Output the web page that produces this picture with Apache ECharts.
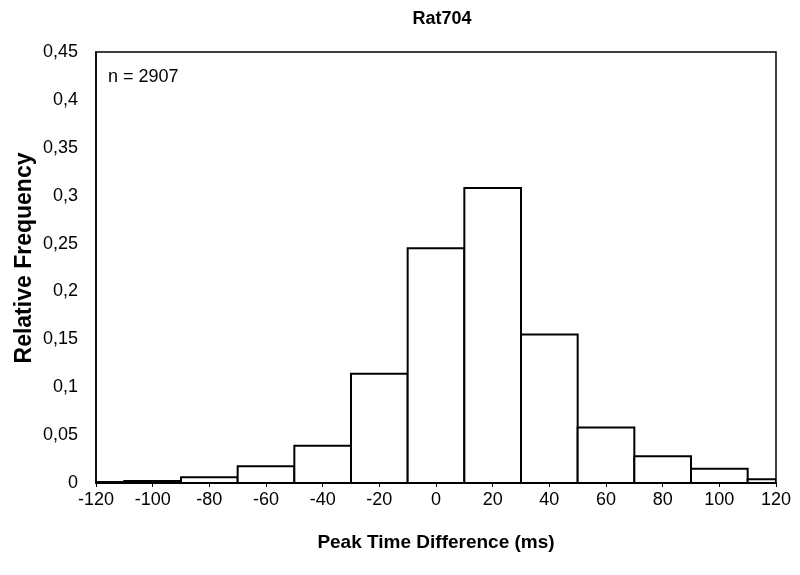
<!DOCTYPE html>
<html><head><meta charset="utf-8">
<script src="https://cdn.jsdelivr.net/npm/echarts@6/dist/echarts.min.js"></script>
<style>html,body{margin:0;padding:0;background:#fff}#c{width:800px;height:575px}</style>
</head><body><div id="c"></div>
<script>
var binCenters = [-120, -100, -80, -60, -40, -20, 0, 20, 40, 60, 80, 100, 120];
var freq = [0.001, 0.002, 0.006, 0.0175, 0.039, 0.114, 0.245, 0.308, 0.155, 0.058, 0.028, 0.015, 0.004];
var binWidth = 20;

var FONT = "'Liberation Sans',Arial,sans-serif";
var chart = echarts.init(document.getElementById('c'));
var data = binCenters.map(function (c, i) { return [c, freq[i]]; });
chart.setOption({
  animation: false,
  title: {
    text: 'Rat704', left: 437, top: 5, textAlign: 'center',
    textStyle: { fontFamily: FONT, fontSize: 18, fontWeight: 'bold', color: '#000' }
  },
  grid: { left: 96, right: 24, top: 52, bottom: 92, show: true, borderColor: '#000', borderWidth: 1.5, backgroundColor: '#fff' },
  xAxis: {
    type: 'value', min: -120, max: 120, interval: 20,
    name: 'Peak Time Difference (ms)', nameLocation: 'middle', nameGap: 50,
    nameTextStyle: { fontFamily: FONT, fontSize: 19, fontWeight: 'bold', color: '#000' },
    axisLine: { show: true, onZero: false, lineStyle: { color: '#000', width: 2 } },
    axisTick: { show: true, length: 4, lineStyle: { color: '#000' } },
    axisLabel: { fontFamily: FONT, fontSize: 18, color: '#000', margin: 8 },
    splitLine: { show: false }
  },
  yAxis: {
    type: 'value', min: 0, max: 0.45, interval: 0.05,
    axisLine: { show: true, onZero: false, lineStyle: { color: '#000', width: 1.5 } },
    axisTick: { show: false },
    axisLabel: {
      fontFamily: FONT, fontSize: 18, color: '#000', margin: 18,
      formatter: function (v) { return String(Math.round(v * 100) / 100).replace('.', ','); }
    },
    splitLine: { show: false }
  },
  graphic: [{
    type: 'text', left: 108, top: 68,
    style: { text: 'n = 2907', font: '18px ' + FONT, fill: '#000' }
  }, {
    type: 'text', x: 25, y: 258, rotation: Math.PI / 2,
    style: { text: 'Relative Frequency', font: 'bold 23px ' + FONT, fill: '#000', align: 'center', verticalAlign: 'middle' }
  }],
  series: [{
    type: 'custom',
    clip: true,
    data: data,
    renderItem: function (params, api) {
      var c = api.value(0), v = api.value(1);
      var p0 = api.coord([c - binWidth / 2, v]);
      var p1 = api.coord([c + binWidth / 2, 0]);
      var rect = echarts.graphic.clipRectByRect(
        { x: p0[0], y: p0[1], width: p1[0] - p0[0], height: p1[1] - p0[1] },
        { x: params.coordSys.x, y: params.coordSys.y, width: params.coordSys.width, height: params.coordSys.height }
      );
      if (!rect) return;
      return { type: 'rect', shape: rect, style: { fill: '#fff', stroke: '#000', lineWidth: 2 } };
    }
  }]
});
</script></body></html>
